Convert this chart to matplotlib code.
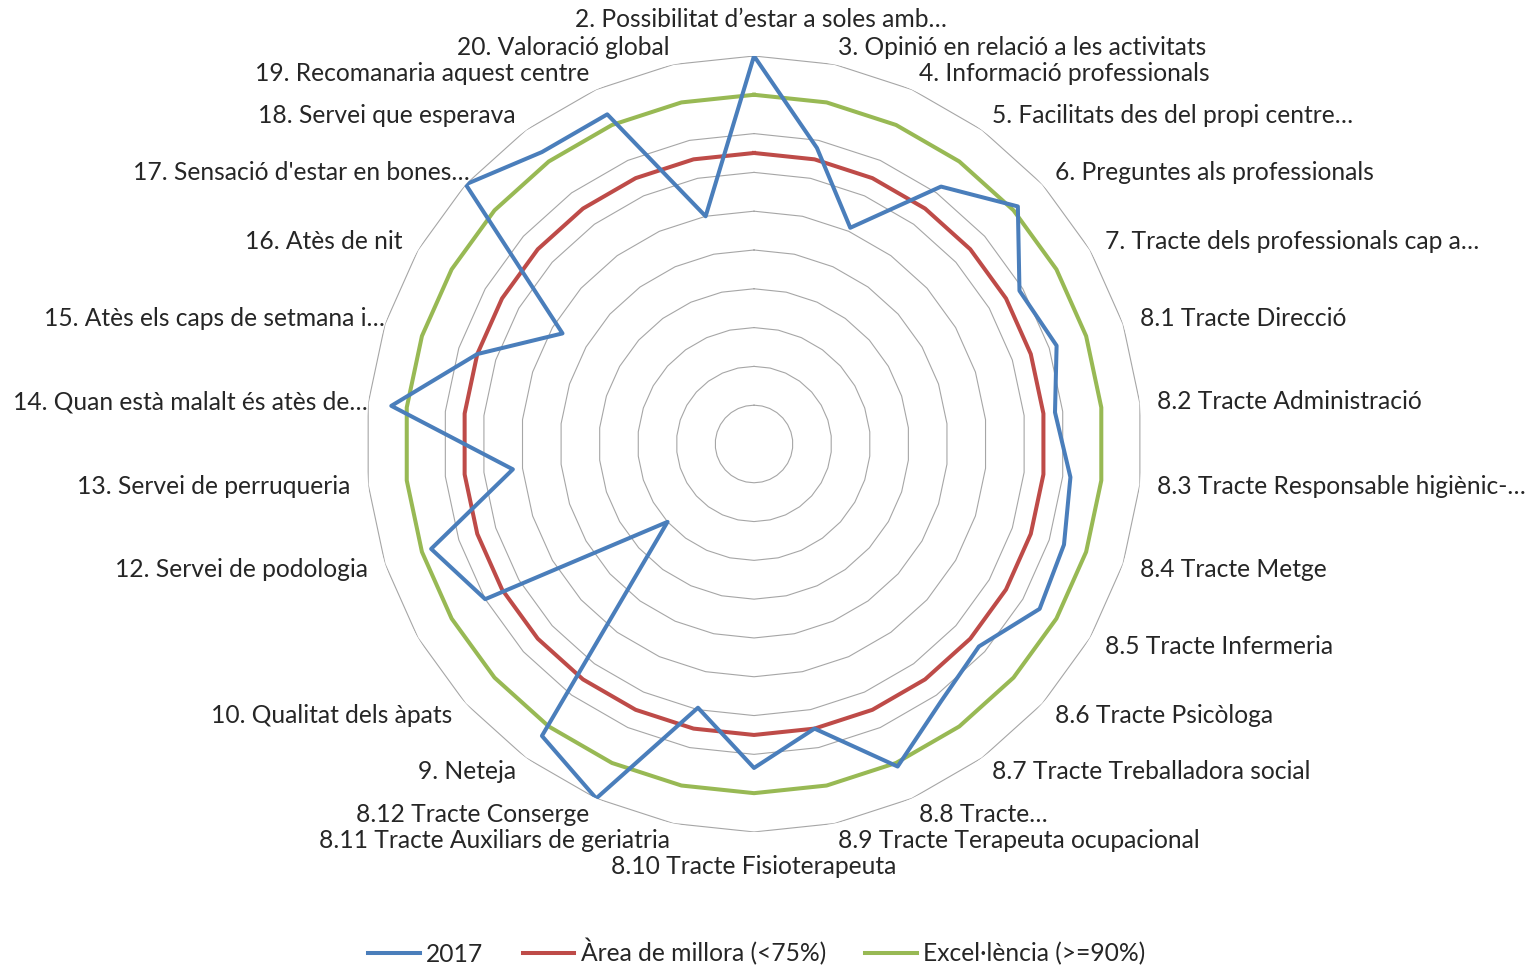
import numpy as np
import matplotlib
matplotlib.use('Agg')
import matplotlib.pyplot as plt

plt.rcParams['font.family'] = ['Lato', 'DejaVu Sans']

CATEGORIES = [
    '2. Possibilitat d’estar a soles amb…',
    '3. Opinió en relació a les activitats',
    '4. Informació professionals',
    '5. Facilitats des del propi centre…',
    '6. Preguntes als professionals',
    '7. Tracte dels professionals cap a…',
    '8.1 Tracte Direcció',
    '8.2 Tracte Administració',
    '8.3 Tracte Responsable higiènic-…',
    '8.4 Tracte Metge',
    '8.5 Tracte Infermeria',
    '8.6 Tracte Psicòloga',
    '8.7 Tracte Treballadora social',
    '8.8 Tracte…',
    '8.9 Tracte Terapeuta ocupacional',
    '8.10 Tracte Fisioterapeuta',
    '8.11 Tracte Auxiliars de geriatria',
    '8.12 Tracte Conserge',
    '9. Neteja',
    '10. Qualitat dels àpats',
    '',
    '12. Servei de podologia',
    '13. Servei de perruqueria',
    '14. Quan està malalt és atès de…',
    '15. Atès els caps de setmana i…',
    '16. Atès de nit',
    "17. Sensació d'estar en bones…",
    '18. Servei que esperava',
    '19. Recomanaria aquest centre',
    '20. Valoració global',
]

VALUES_2017 = [100, 78, 61, 82, 91.5, 79, 82, 78, 82, 84,
               85, 78, 82, 91, 75, 83.5, 69.5, 100, 93, 30,
               80, 87.5, 62.5, 94, 75, 57, 100, 93, 93, 60]
AREA_MILLORA = [75, 75, 75, 75, 75, 75, 75, 75, 75, 75,
                75, 75, 75, 75, 75, 75, 75, 75, 75, 75,
                75, 75, 75, 75, 75, 75, 75, 75, 75, 75]
EXCELLENCIA = [90, 90, 90, 90, 90, 90, 90, 90, 90, 90,
               90, 90, 90, 90, 90, 90, 90, 90, 90, 90,
               90, 90, 90, 90, 90, 90, 90, 90, 90, 90]
GRID_LEVELS = [10, 20, 30, 40, 50, 60, 70, 80, 90, 100]

BLUE = '#4A7EBB'
RED = '#BE4B48'
GREEN = '#98B954'
TEXT = '#262626'
FONT_SIZE = 17.7


def closed(values):
    return list(values) + [values[0]]


fig = plt.figure(figsize=(15.29, 9.68), dpi=100)
ax = fig.add_axes([0.2394, 0.1405, 0.5075, 0.8017], projection='polar')
ax.set_theta_zero_location('N')
ax.set_theta_direction(-1)
ax.set_ylim(0, 100)

angles = np.linspace(0, 2 * np.pi, len(CATEGORIES), endpoint=False)
angles_closed = closed(angles)

# polygonal grid like a spreadsheet radar chart
ax.grid(False)
ax.spines['polar'].set_visible(False)
ax.set_xticks([])
ax.set_yticks([])
for level in GRID_LEVELS:
    ax.plot(angles_closed, [level] * len(angles_closed),
            color='#A6A6A6', lw=0.8, zorder=1)

ax.plot(angles_closed, closed(VALUES_2017), color=BLUE, lw=2.9,
        label='2017', zorder=4)
ax.plot(angles_closed, closed(AREA_MILLORA), color=RED, lw=2.9,
        label='Àrea de millora (<75%)', zorder=3)
ax.plot(angles_closed, closed(EXCELLENCIA), color=GREEN, lw=2.9,
        label='Excel·lència (>=90%)', zorder=3)

# category labels around the outside
for ang, label in zip(angles, CATEGORIES):
    s = np.sin(ang)
    c = np.cos(ang)
    r = 104.5
    dx = 0
    if abs(s) < 1e-6:
        ha = 'center'
        va = 'bottom' if c > 0 else 'top'
        r = 106.5 if c > 0 else 106
        dx = 5 if c > 0 else 0
    else:
        ha = 'left' if s > 0 else 'right'
        va = 'center'
        # truncated labels on the left sit a little closer in
        if s < 0 and label.endswith('…'):
            dx = 12
    ax.annotate(label, xy=(ang, r), xytext=(dx, 0),
                textcoords='offset points', ha=ha, va=va,
                fontsize=FONT_SIZE, color=TEXT, annotation_clip=False)

fig.legend(loc='center', bbox_to_anchor=(0.495, 0.0165), ncol=3,
           frameon=False, fontsize=FONT_SIZE, handlelength=2.1,
           handletextpad=0.25, columnspacing=1.6, labelcolor=TEXT)

fig.savefig('out.png', dpi=100)
